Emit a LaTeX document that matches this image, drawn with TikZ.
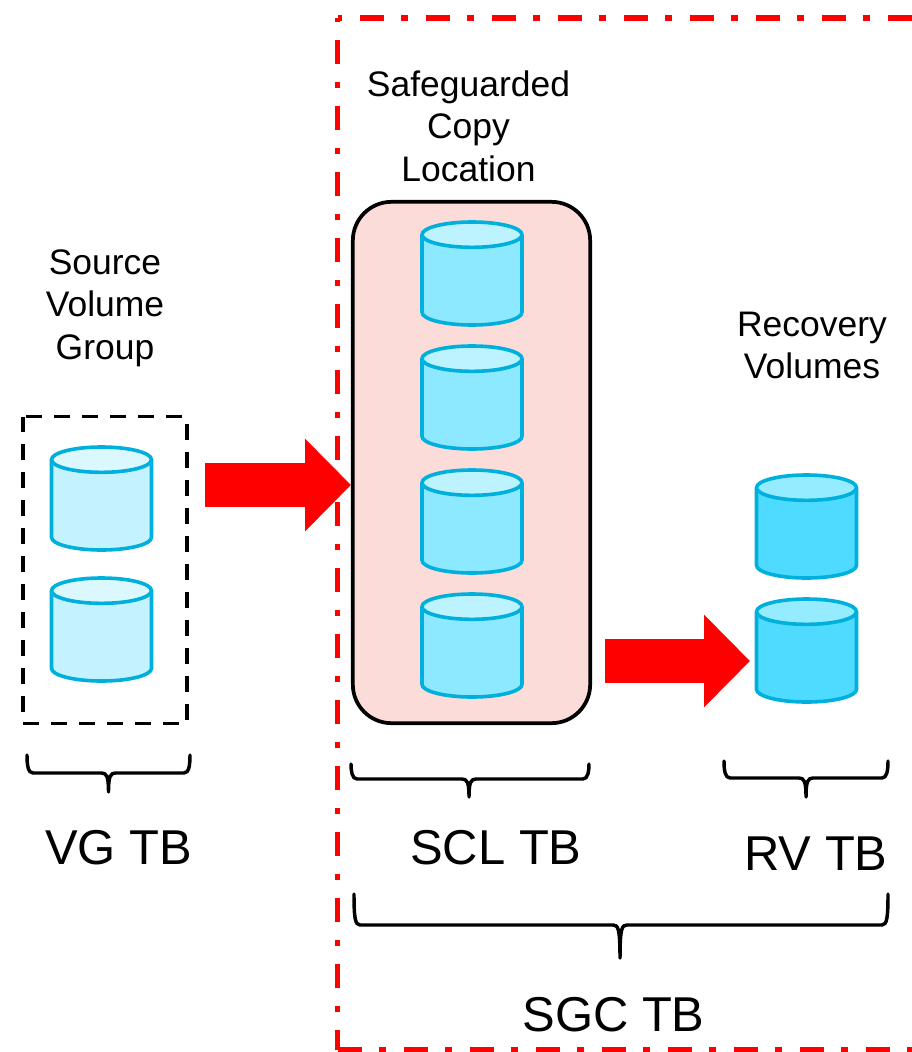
\documentclass[tikz,border=0pt]{standalone}
\usepackage{fontspec}
\setmainfont{Liberation Sans}
\usetikzlibrary{arrows.meta}
\definecolor{cylstroke}{HTML}{00B0DC}
\definecolor{palebody}{HTML}{C4F3FF}
\definecolor{paletop}{HTML}{DCF8FF}
\definecolor{midbody}{HTML}{8DE9FF}
\definecolor{midtop}{HTML}{BCF3FF}
\definecolor{deepbody}{HTML}{4FDBFF}
\definecolor{deeptop}{HTML}{95EBFF}
\definecolor{boxfill}{HTML}{FBDCD8}
\tikzset{
  x=0.75pt,y=-0.75pt,
  anchorbox/.style={inner sep=0pt,outer sep=0pt,minimum width=75pt,minimum height=77.25pt},
  cyledge/.style={draw=cylstroke,line width=2.7pt,line join=round},
  redline/.style={draw=red,line width=4.4pt,dash pattern=on 18pt off 13.25pt on 5pt off 13.25pt},
  blackbrace/.style={draw=black,line width=2.6pt,line cap=round,line join=round},
  bigarrow/.style={draw=red,line width=33pt,-{Triangle[length=34.5pt,width=67.5pt,fill=red]}},
  smalltext/.style={font=\fontsize{26.6pt}{31.9pt}\selectfont,align=center,inner sep=0pt},
  bigtext/.style={font=\fontsize{36.7pt}{44pt}\selectfont,inner sep=0pt},
}
% name, centre x, centre y, body colour, top colour
\newcommand{\drumshape}[5]{%
  \node[anchorbox] (#1) at (#2,#3) {};
  \path[cyledge,fill=#4] ([yshift=-9.5pt]#1.north west)
    -- ([yshift=9.5pt]#1.south west)
    arc[start angle=180,end angle=360,x radius=37.5pt,y radius=9.5pt]
    -- ([yshift=-9.5pt]#1.north east) -- cycle;
  \path[cyledge,fill=#5] ([yshift=-9.5pt]#1.north) ellipse[x radius=37.5pt,y radius=9.5pt];
}
% x1, x2, xm, ytop, ymid, ytip
\newcommand{\bracket}[6]{%
  \coordinate (bl) at (#1,#4); \coordinate (br) at (#2,#4); \coordinate (bt) at (#3,#6);
  \draw[blackbrace] (bl) .. controls (#1,#5-8) and (#1+1,#5) .. (#1+6,#5)
    -- (#3-7,#5) .. controls (#3-2,#5) and (#3,#5+3) .. (bt)
    .. controls (#3,#5+3) and (#3+2,#5) .. (#3+7,#5)
    -- (#2-6,#5) .. controls (#2-1,#5) and (#2,#5-8) .. (br);
}
\begin{document}
\begin{tikzpicture}
\useasboundingbox (0,0) rectangle (912,1052);
% red frame
\coordinate (frameTL) at (337.5,18);
\coordinate (frameTR) at (912,18);
\coordinate (frameBL) at (337.5,1050);
\coordinate (frameBR) at (912,1050);
\draw[redline,dash phase=33pt] (frameTL) -- (frameBL);
\draw[redline,dash phase=33pt] (frameTL) -- (frameTR);
\draw[redline] (frameBL) -- (frameBR);
% source group
\node[minimum width=123pt,minimum height=230.25pt,inner sep=0pt,outer sep=0pt] (vg) at (105,570) {};
\draw[line width=2.9pt,dash pattern=on 12pt off 9pt,dash phase=18.75pt]
  (vg.north west) -- (vg.north east) -- (vg.south east) -- (vg.south west) -- cycle;
\drumshape{va}{101.5}{498.5}{palebody}{paletop}
\drumshape{vb}{101.5}{629.5}{palebody}{paletop}
% safeguarded location
\node[draw=black,line width=2.8pt,fill=boxfill,rounded corners=29pt,minimum width=178pt,minimum height=391pt,inner sep=0pt] (scl) at (471.5,462.5) {};
\drumshape{sa}{472}{273.5}{midbody}{midtop}
\drumshape{sb}{472}{397.5}{midbody}{midtop}
\drumshape{sc}{472}{521.5}{midbody}{midtop}
\drumshape{sd}{472}{645.5}{midbody}{midtop}
% recovery
\drumshape{ra}{806.5}{526.5}{deepbody}{deeptop}
\drumshape{rb}{806.5}{650.5}{deepbody}{deeptop}
% arrows
\coordinate (arrowAstart) at (205,485);
\coordinate (arrowAend) at (351,485);
\coordinate (arrowBstart) at (605,661);
\coordinate (arrowBend) at (750,661);
\draw[bigarrow] (arrowAstart) -- (arrowAend);
\draw[bigarrow] (arrowBstart) -- (arrowBend);
% labels
\node[smalltext] (lblvg) at (105,308) {Source\\Volume\\Group};
\node[smalltext] (lblscl) at (468.5,126) {Safeguarded\\Copy\\Location};
\node[smalltext] (lblrv) at (812,345.5) {Recovery\\Volumes};
% braces
\bracket{27}{190}{108.5}{755}{773}{792}
\bracket{351}{589}{469}{764}{779}{797}
\bracket{724}{888}{806}{761}{778}{797}
\bracket{354}{888}{620}{894}{925}{958}
\node[bigtext] (tvg) at (118.5,848) {VG TB};
\node[bigtext] (tscl) at (496,848) {SCL TB};
\node[bigtext] (trv) at (816,853.5) {RV TB};
\node[bigtext] (tsgc) at (613.5,1015) {SGC TB};
\end{tikzpicture}
\end{document}
